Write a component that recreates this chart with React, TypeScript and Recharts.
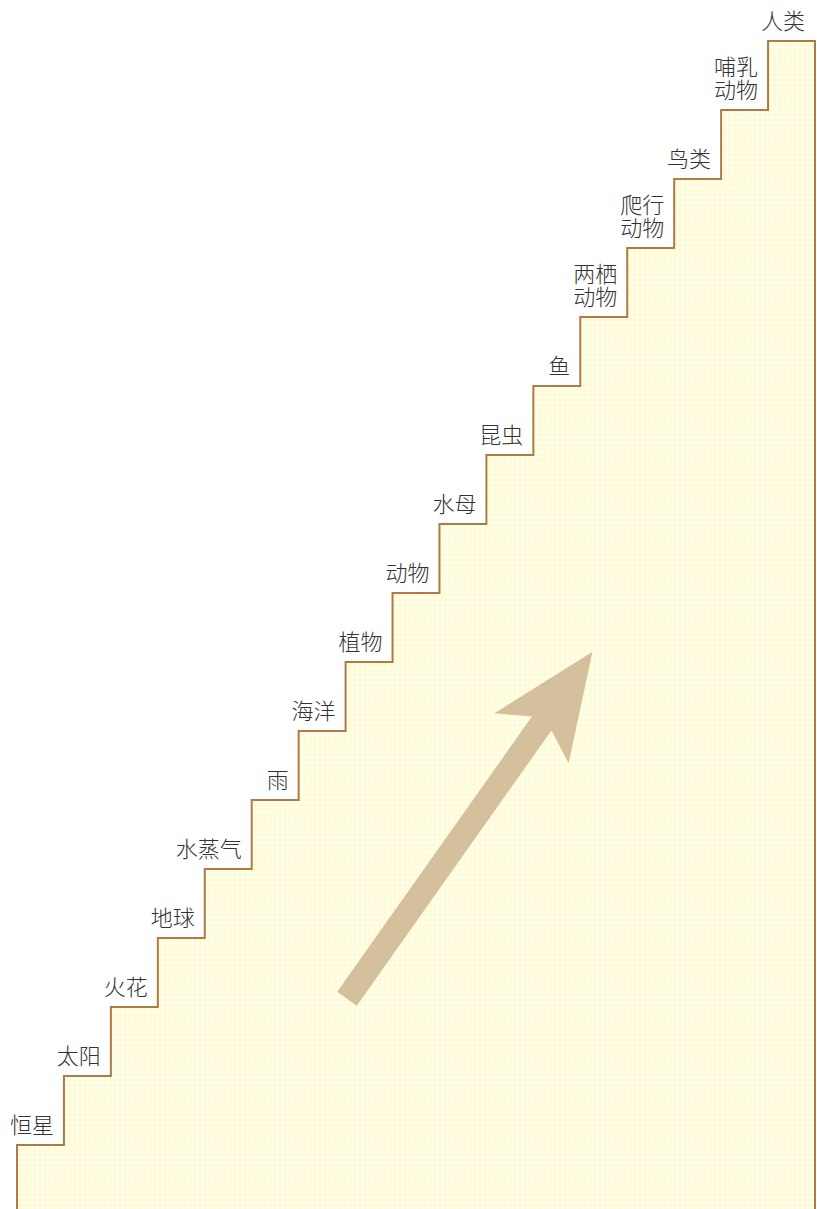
import React from 'react'
import { ComposedChart, Area, Scatter, XAxis, YAxis, ReferenceLine } from 'recharts'

// stages, bottom to top
const stages = [
  '恒星', '太阳', '火花', '地球', '水蒸气', '雨', '海洋', '植物', '动物',
  '水母', '昆虫', '鱼', '两栖\n动物', '爬行\n动物', '鸟类', '哺乳\n动物', '人类',
]
const levels = [1, 2, 3, 4, 5, 6, 7, 8, 9, 10, 11, 12, 13, 14, 15, 16, 17]

// arrow tail and tip, in data units
const arrowFrom = { x: 7.03, y: 3.12 }
const arrowTo = { x: 12.26, y: 8.15 }

const stairData = [
  { x: 0, v: 0 },
  ...levels.map((v, i) => ({ x: i, v })),
  { x: stages.length, v: levels[levels.length - 1] },
  { x: stages.length, v: 0 },
]

const labelData = stages.map((name, i) => ({ x: i + 1, v: levels[i], name }))

const FONT = '"Noto Sans CJK SC", "Noto Sans", sans-serif'

function StepLabel(props: any) {
  const { cx, cy, payload } = props
  const lines: string[] = payload.name.split('\n')
  const x = cx - 10
  const base = cy - 12
  return (
    <text
      x={x}
      textAnchor="end"
      fontFamily={FONT}
      fontSize={22}
      fontWeight={300}
      fill="#333"
    >
      {lines.map((ln, i) => (
        <tspan key={i} x={x} y={base - (lines.length - 1 - i) * 23.5}>
          {ln}
        </tspan>
      ))}
    </text>
  )
}

function Arrow(props: any) {
  const { x1, y1, x2, y2 } = props
  if (x1 == null) return null
  const dx = x2 - x1
  const dy = y2 - y1
  const len = Math.hypot(dx, dy)
  const ux = dx / len
  const uy = dy / len
  const nx = -uy
  const ny = ux
  const pt = (a: number, p: number) => `${x2 + ux * a + nx * p},${y2 + uy * a + ny * p}`
  const half = 12
  const pts = [
    pt(-len, -half),
    pt(-88, -half),
    pt(-107, -44.5),
    pt(0, 0),
    pt(-105, 45),
    pt(-88, half),
    pt(-len, half),
  ].join(' ')
  return <polygon points={pts} fill="#d4c09c" />
}

export default function App() {
  return (
    <div style={{ position: 'fixed', left: 0, top: 0, width: 817, height: 1209, overflow: 'hidden', background: '#fff' }}>
      <ComposedChart
        width={817}
        height={1214}
        data={stairData}
        margin={{ top: 41, right: 2, left: 17, bottom: 0 }}
      >
        <defs>
          <pattern id="dots" width="5" height="5" patternUnits="userSpaceOnUse">
            <rect width="5" height="5" fill="#fffbd3" />
            <path d="M2.5 0.5 L2.5 4.5 M0.5 2.5 L4.5 2.5" stroke="#ffffff" strokeWidth="1" />
          </pattern>
        </defs>
        <XAxis type="number" dataKey="x" domain={[0, stages.length]} hide />
        <YAxis type="number" domain={[0, levels.length]} hide />
        <Area
          type="stepAfter"
          dataKey="v"
          stroke="#b07a45"
          strokeWidth={2}
          fill="url(#dots)"
          fillOpacity={1}
          isAnimationActive={false}
          dot={false}
          activeDot={false}
        />
        <ReferenceLine segment={[arrowFrom, arrowTo]} shape={Arrow} />
        <Scatter data={labelData} dataKey="v" shape={StepLabel} isAnimationActive={false} />
      </ComposedChart>
    </div>
  )
}
